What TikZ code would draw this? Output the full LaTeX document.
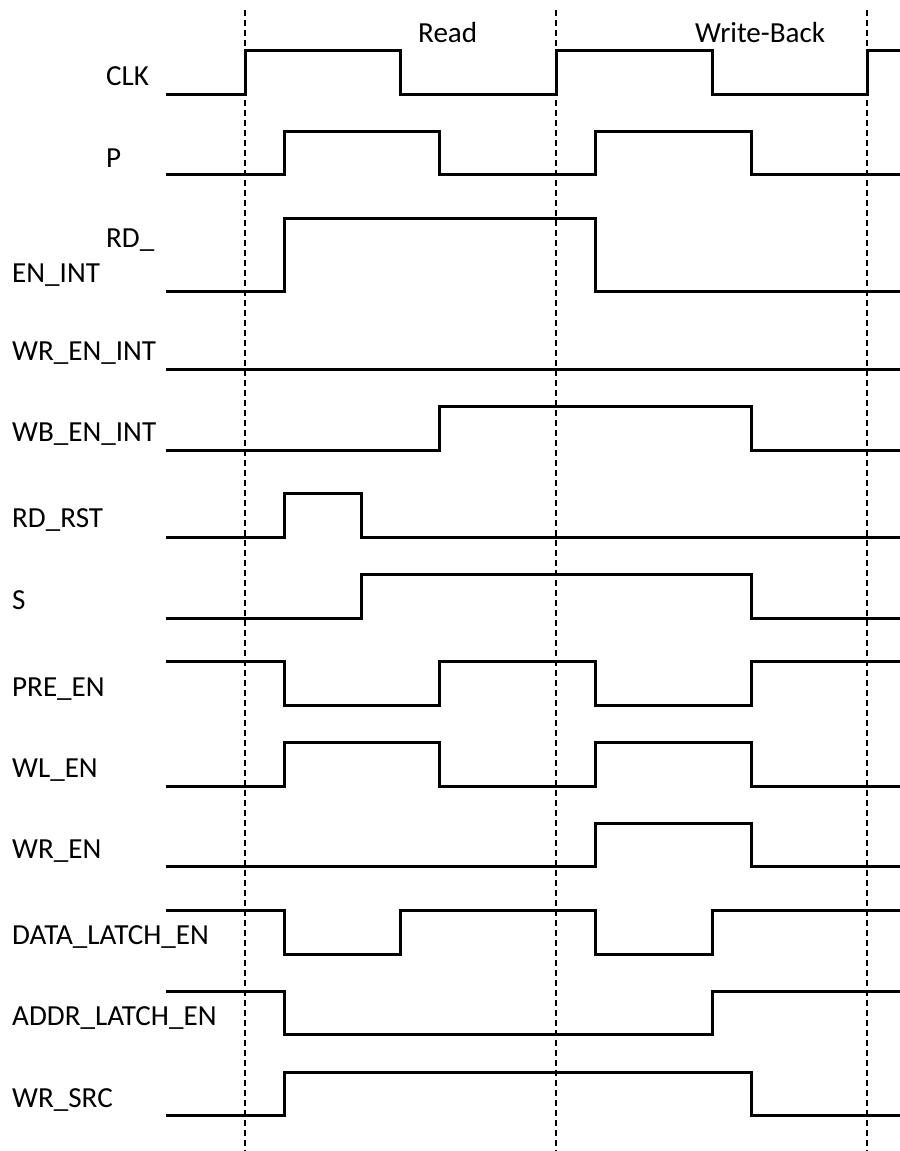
\documentclass[tikz,border=0pt]{standalone}
\usepackage{fontspec}
\setmainfont{Carlito}
\begin{document}
\begin{tikzpicture}[x=1bp,y=-1bp,
  sig/.style={line width=3bp,line join=miter,line cap=butt},
  grid/.style={line width=1.8bp,dash pattern=on 6bp off 4bp},
  lbl/.style={anchor=base west,inner sep=0pt,font=\fontsize{29.2}{34}\selectfont}]
\useasboundingbox (0,0) rectangle (900,1151);
% dashed clock-edge markers
\coordinate (d1t) at (245,10);  \coordinate (d1b) at (245,1151);
\coordinate (d2t) at (556,10);  \coordinate (d2b) at (556,1151);
\coordinate (d3t) at (867,10);  \coordinate (d3b) at (867,1151);
\draw[grid] (d1t) -- (d1b);
\draw[grid] (d2t) -- (d2b);
\draw[grid,line width=2.6bp] (d3t) -- (d3b);
% phase labels
\node[lbl] (read) at (418,42) {Read};
\node[lbl] (wb) at (695,42) {Write-Back};
% signal labels
\node[lbl] (lclk) at (106,85) {CLK};
\node[lbl] (lp) at (106,167) {P};
\node[lbl] (lrd1) at (106,247) {RD\_};
\node[lbl] (lrd2) at (12,282) {EN\_INT};
\node[lbl] (lwrint) at (12,360) {WR\_EN\_INT};
\node[lbl] (lwbint) at (12,441) {WB\_EN\_INT};
\node[lbl] (lrdrst) at (12,527) {RD\_RST};
\node[lbl] (ls) at (12,609) {S};
\node[lbl] (lpre) at (12,696) {PRE\_EN};
\node[lbl] (lwl) at (12,777) {WL\_EN};
\node[lbl] (lwr) at (12,858) {WR\_EN};
\node[lbl] (ldata) at (12,944) {DATA\_LATCH\_EN};
\node[lbl] (laddr) at (12,1025) {ADDR\_LATCH\_EN};
\node[lbl] (lsrc) at (12,1107) {WR\_SRC};
% waveforms
% CLK
\draw[sig] (166,94) -- (245,94) -- (245,50) -- (400,50) -- (400,94) -- (556,94) -- (556,50) -- (712,50) -- (712,94) -- (867,94) -- (867,50) -- (900,50);
% P
\draw[sig] (166,174) -- (284,174) -- (284,131) -- (439,131) -- (439,174) -- (595,174) -- (595,131) -- (751,131) -- (751,174) -- (900,174);
% RD_EN_INT
\draw[sig] (166,291) -- (284,291) -- (284,218) -- (595,218) -- (595,291) -- (900,291);
% WR_EN_INT
\draw[sig] (166,369) -- (900,369);
% WB_EN_INT
\draw[sig] (166,450) -- (439,450) -- (439,406) -- (751,406) -- (751,450) -- (900,450);
% RD_RST
\draw[sig] (166,537) -- (284,537) -- (284,493) -- (361,493) -- (361,537) -- (900,537);
% S
\draw[sig] (166,618) -- (361,618) -- (361,574) -- (751,574) -- (751,618) -- (900,618);
% PRE_EN
\draw[sig] (166,661) -- (284,661) -- (284,705) -- (439,705) -- (439,661) -- (595,661) -- (595,705) -- (751,705) -- (751,661) -- (900,661);
% WL_EN
\draw[sig] (166,786) -- (284,786) -- (284,742) -- (439,742) -- (439,786) -- (595,786) -- (595,742) -- (751,742) -- (751,786) -- (900,786);
% WR_EN
\draw[sig] (166,866) -- (595,866) -- (595,823) -- (751,823) -- (751,866) -- (900,866);
% DATA_LATCH_EN
\draw[sig] (166,910) -- (284,910) -- (284,954) -- (400,954) -- (400,910) -- (595,910) -- (595,954) -- (712,954) -- (712,910) -- (900,910);
% ADDR_LATCH_EN
\draw[sig] (166,991) -- (284,991) -- (284,1034) -- (712,1034) -- (712,991) -- (900,991);
% WR_SRC
\draw[sig] (166,1115) -- (284,1115) -- (284,1072) -- (751,1072) -- (751,1115) -- (900,1115);
\end{tikzpicture}
\end{document}
